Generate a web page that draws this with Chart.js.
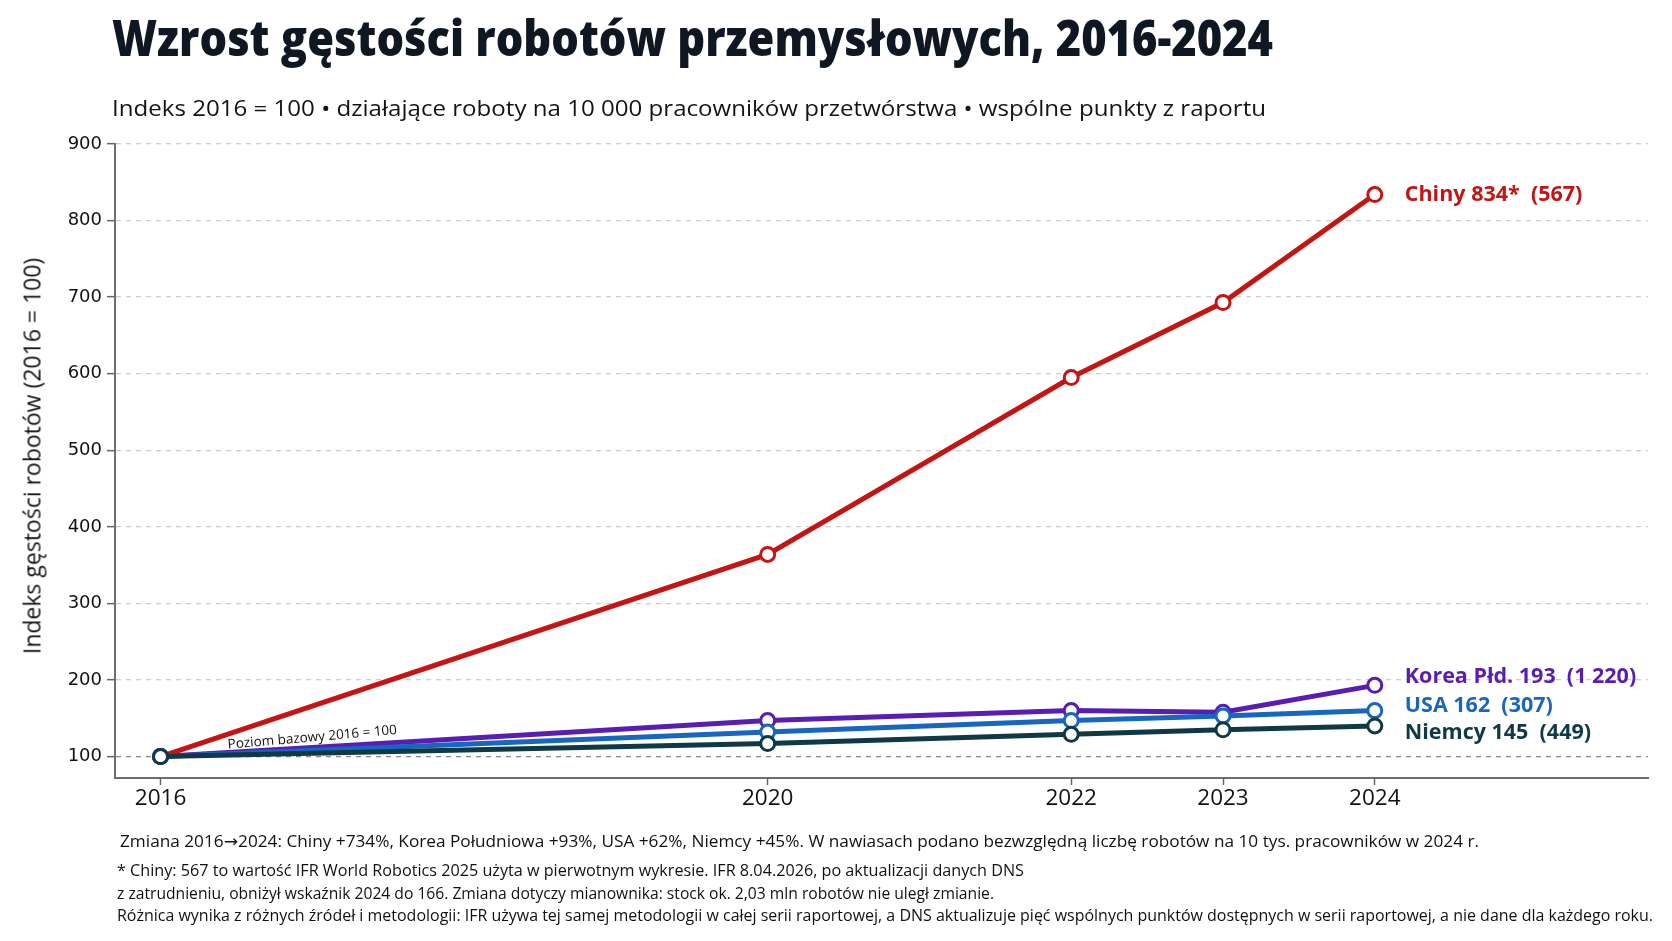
<!DOCTYPE html>
<html lang="pl">
<head>
<meta charset="utf-8">
<title>Wzrost gęstości robotów przemysłowych, 2016-2024</title>
<script src="https://cdn.jsdelivr.net/npm/chart.js@4.4.1/dist/chart.umd.min.js"></script>
<style>
  html, body { margin: 0; padding: 0; background: #fff; }
  body { width: 1672px; height: 941px; position: relative; overflow: hidden; font-family: "Open Sans", sans-serif; }
  #chart { position: absolute; left: 0; top: 0; }
  .txt { position: absolute; white-space: nowrap; line-height: 1; transform-origin: 0 0; color: #1a1a1a; }
  #title { left: 112px; top: 12px; font-size: 50px; font-weight: 800; color: #0f1722; }
  #subtitle { left: 112px; top: 96px; font-size: 22px; color: #141414; }
  #ytitle { left: 32px; top: 456px; font-size: 23px; color: #141414; transform: translate(-50%, -50%) rotate(-90deg); transform-origin: 50% 50%; }
  .foot { font-size: 16.5px; color: #111; }
  .arrow { font-family: "DejaVu Sans", sans-serif; }
</style>
</head>
<body>
<canvas id="chart" width="1672" height="941"></canvas>
<div class="txt" id="title" data-w="1161">Wzrost gęstości robotów przemysłowych, 2016-2024</div>
<div class="txt" id="subtitle" data-w="1154">Indeks 2016 = 100 • działające roboty na 10 000 pracowników przetwórstwa • wspólne punkty z raportu</div>
<div class="txt" id="ytitle">Indeks gęstości robotów (2016 = 100)</div>
<div class="txt foot" style="left:120px; top:833px" data-w="1359">Zmiana 2016<span class="arrow">→</span>2024: Chiny +734%, Korea Południowa +93%, USA +62%, Niemcy +45%. W nawiasach podano bezwzględną liczbę robotów na 10 tys. pracowników w 2024 r.</div>
<div class="txt foot" style="left:117px; top:862px" data-w="907">* Chiny: 567 to wartość IFR World Robotics 2025 użyta w pierwotnym wykresie. IFR 8.04.2026, po aktualizacji danych DNS</div>
<div class="txt foot" style="left:117px; top:885px" data-w="877">z zatrudnieniu, obniżył wskaźnik 2024 do 166. Zmiana dotyczy mianownika: stock ok. 2,03 mln robotów nie uległ zmianie.</div>
<div class="txt foot" style="left:117px; top:907px" data-w="1536">Różnica wynika z różnych źródeł i metodologii: IFR używa tej samej metodologii w całej serii raportowej, a DNS aktualizuje pięć wspólnych punktów dostępnych w serii raportowej, a nie dane dla każdego roku.</div>

<script>
// years shared by every series
const years = [2016, 2020, 2022, 2023, 2024];
const yTicks = [100, 200, 300, 400, 500, 600, 700, 800, 900];

// index values (2016 = 100)
const chiny = [100, 364, 595, 693, 834];
const korea = [100, 147, 160, 158, 193];
const usa = [100, 132, 147, 153, 160];
const niemcy = [100, 117, 129, 135, 140];

// text shown at the end of each line
const names = ["Chiny", "Korea Płd.", "USA", "Niemcy"];
const endIndex = ["834*", "193", "162", "145"];
const absolute2024 = ["567", "1 220", "307", "449"];

const colors = ["#c41414", "#5a1db4", "#1766c2", "#0e3945"];
const labelShift = [0, -8, -5, 7];

// squeeze the wide text blocks to the widths in the reference
document.querySelectorAll(".txt[data-w]").forEach((el) => {
  const w = el.getBoundingClientRect().width;
  const target = +el.dataset.w;
  el.style.transform = `scaleX(${target / w})`;
});

const toPoints = (vals) => vals.map((v, i) => ({ x: years[i], y: v }));

const endLabels = {
  id: "endLabels",
  afterDatasetsDraw(chart) {
    const { ctx, scales } = chart;
    ctx.save();
    chart.data.datasets.forEach((ds, i) => {
      const meta = chart.getDatasetMeta(i);
      const pt = meta.data[meta.data.length - 1];
      const k = ds.key;
      ctx.font = "bold 21.5px 'Open Sans'";
      ctx.fillStyle = colors[k];
      ctx.textBaseline = "middle";
      ctx.textAlign = "left";
      ctx.fillText(`${names[k]} ${endIndex[k]}  (${absolute2024[k]})`, pt.x + 30, pt.y + labelShift[k]);
    });
    // baseline note
    const bx = scales.x.getPixelForValue(2017);
    const by = scales.y.getPixelForValue(100) - 19;
    ctx.translate(bx, by);
    ctx.rotate(-5 * Math.PI / 180);
    ctx.font = "13.5px 'Open Sans'";
    ctx.fillStyle = "#111";
    ctx.textAlign = "center";
    ctx.fillText("Poziom bazowy 2016 = 100", 0, 0);
    ctx.restore();
  }
};

const series = [chiny, korea, usa, niemcy];

new Chart(document.getElementById("chart"), {
  type: "line",
  data: {
    datasets: series.map((vals, k) => ({
      key: k,
      label: names[k],
      data: toPoints(vals),
      borderColor: colors[k],
      borderWidth: 5,
      pointRadius: 7,
      pointBorderWidth: 3,
      pointBackgroundColor: "#fff",
      pointBorderColor: colors[k],
      tension: 0,
      order: 4 - k
    }))
  },
  options: {
    responsive: false,
    animation: false,
    layout: { padding: { left: 55, right: 24, top: 144, bottom: 113 } },
    plugins: {
      legend: { display: false },
      tooltip: { enabled: false }
    },
    scales: {
      x: {
        type: "linear",
        min: 2015.7,
        max: 2025.8,
        afterBuildTicks: (s) => { s.ticks = years.map((v) => ({ value: v })); },
        afterFit: (s) => { s.height = 50; },
        ticks: {
          callback: (v) => String(v),
          font: { family: "Open Sans", size: 22.5 },
          color: "#111",
          padding: 0,
          maxRotation: 0,
          autoSkip: false
        },
        grid: { drawOnChartArea: false, tickLength: 7, tickColor: "#666", tickWidth: 1.5 },
        border: { color: "#6e6e6e", width: 2 }
      },
      y: {
        min: 72,
        max: 900,
        afterBuildTicks: (s) => { s.ticks = yTicks.map((v) => ({ value: v })); },
        afterFit: (s) => { s.width = 60; },
        ticks: {
          font: { family: "DejaVu Sans", size: 18 },
          color: "#111",
          padding: 5
        },
        grid: {
          color: (c) => (c.tick && c.tick.value === 100 ? "#8c8c8c" : "#cfcfcf"),
          lineWidth: 1.3,
          tickLength: 8,
          tickColor: "#666",
          tickWidth: 1.5
        },
        border: { color: "#6e6e6e", width: 2, dash: [5, 5] }
      }
    }
  },
  plugins: [endLabels]
});
</script>
</body>
</html>
